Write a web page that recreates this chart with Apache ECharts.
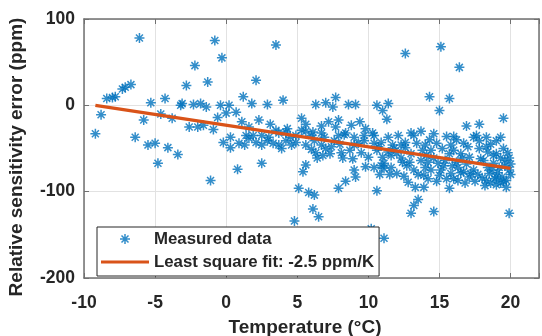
<!DOCTYPE html>
<html>
<head>
<meta charset="utf-8">
<script src="https://cdn.jsdelivr.net/npm/echarts@6/dist/echarts.min.js"></script>
<style>
  html, body { margin: 0; padding: 0; background: #ffffff; }
  #chart { width: 542px; height: 336px; }
</style>
</head>
<body>
<div id="chart"></div>
<script>
// Measured relative sensitivity error: [temperature (°C), error (ppm)]
const measuredPoints = [
  [-9.2,-33],[-8.8,-11],[-8.4,8],[-8.0,9],[-7.8,10],[-7.3,19],[-7.1,21],[-6.7,24],[-6.4,-37],[-6.1,78],
  [-5.8,-17],[-5.5,-46],[-5.3,3],[-5.0,-44],[-4.8,-67],[-4.6,-10],[-4.3,8],[-4.1,-49],[-3.8,-15],[-3.4,-57],
  [-3.1,2],[-3.2,0],[-2.8,23],[-2.6,-25],[-2.3,1],[-2.2,46],[-2.0,-25],[-1.8,2],[-1.6,-23],[-1.4,-2],
  [-1.3,27],[-1.1,-87],[-0.9,-28],[-0.8,75],[-0.6,-14],[-0.4,0],[-0.3,55],[-0.2,-43],[0.0,-9],
  [0.2,0],[0.3,-49],[0.3,-37],[0.7,-8],[0.8,-74],[0.9,-44],[1.1,-19],[1.2,10],[1.3,-46],[1.4,-35],
  [1.6,-25],[1.6,-38],[1.9,-35],[1.8,2],[2.1,-43],[2.1,29],[2.3,-17],[2.5,-35],[2.5,-46],[2.5,-67],
  [2.9,-41],[2.9,1],[3.1,-22],[3.0,-37],[3.3,-44],[3.5,-29],[3.5,70],[3.7,-32],[3.7,-46],[3.9,-50],
  [4.0,6],[4.2,-31],[4.2,-41],[4.3,-27],[4.5,-37],[4.6,-46],[4.8,-134],[4.9,-43],[4.9,-35],
  [5.1,-96],[5.3,-15],[5.3,-29],[5.4,-77],[5.6,-22],[5.6,-30],[5.6,-46],[5.6,-69],[5.8,-101],[6.0,-51],
  [6.0,-35],[6.1,-120],[6.1,-31],[6.2,-104],[6.2,-41],[6.3,1],[6.4,-61],[6.5,-129],[6.7,-24],[6.7,-32],
  [6.7,-46],[6.8,-58],[6.9,-37],[7.0,3],[7.2,-19],[7.3,-56],[7.4,-48],[7.5,-2],[7.6,-41],[7.7,9],
  [7.7,-25],[7.9,-17],[7.9,-35],[7.9,-96],[8.1,-55],[8.2,-61],[8.3,-34],[8.4,-32],[8.4,-88],[8.6,1],
  [8.7,-52],[8.8,-23],[9.0,-46],[9.0,-37],[9.0,-75],[9.1,1],[9.1,-83],[9.3,-44],[9.4,-19],[9.7,-41],
  [9.7,-35],[9.8,-27],[9.8,-71],
  [10.3,-32],[10.4,-44],[10.4,-35],[10.4,-72],[10.6,0],[10.6,-52],[10.6,-99],[10.7,-48],[10.9,-43],[10.9,-70],
  [11.0,-6],[11.0,-60],[11.1,-67],[11.1,-73],[11.1,-154],[10.2,-143],[11.3,-16],[11.4,2],[11.4,-37],[11.4,-54],
  [11.6,-58],[11.6,-72],[11.7,-46],[11.8,-50],[12.0,-79],[12.1,-35],[12.3,-46],[12.3,-61],[12.4,-66],[12.6,60],
  [12.6,-43],[12.6,-49],[12.7,-70],[12.8,-89],[13.0,-32],[13.0,-56],[13.0,-125],[13.2,-75],[13.2,-35],[13.2,-116],
  [13.3,-95],[13.4,-44],[13.5,-109],[13.7,-30],[13.7,-64],[13.9,-81],[13.9,-95],[14.0,-46],[14.0,-72],[14.1,-58],
  [14.3,-40],[14.3,10],[14.4,-52],[14.4,-75],[14.6,-33],[14.6,-61],[14.6,-123],[14.9,-67],[15.0,-6],[15.0,-81],
  [15.1,68],[15.1,-75],[15.3,-70],[15.4,-64],[15.5,-36],[15.7,8],[15.7,-56],[15.7,-96],[15.8,-46],[15.8,-79],
  [16.0,-36],[16.0,-85],[16.3,-87],[16.3,-72],[16.2,-66],[16.4,44],[16.5,-56],[16.5,-78],[16.6,-61],[16.7,-44],
  [16.7,-77],[16.9,-24],[16.9,-68],[17.1,-60],[17.1,-83],[17.2,-79],[17.4,-37],[17.4,-75],[17.6,-35],[17.7,-80],
  [17.8,-22],[17.8,-41],[17.8,-50],[18.0,-84],[18.1,-64],[18.3,-37],[18.3,-48],[18.3,-87],[18.4,-72],[18.4,-54],
  [18.5,-79],[18.6,-90],[18.8,-67],[18.8,-58],[18.9,-85],[19.0,-56],[19.0,-41],[19.0,-83],[19.1,-78],[19.2,-72],
  [19.3,-37],[19.3,-61],[19.3,-90],[19.4,-83],[19.5,-15],[19.5,-50],[19.6,-64],[19.7,-87],[19.7,-95],[19.9,-75],
  [19.9,-61],[19.9,-125],
  [14.2,-85],[14.8,-88],[15.5,-85],[16.8,-90],[17.5,-88],[18.2,-93],[19.0,-92],[19.5,-88],[20.0,-80],[20.0,-68],
  [19.8,-55],[15.2,-50],[16.0,-52],[17.0,-48],[18.6,-45],[13.8,-52],[12.0,-55],[12.9,-66],[14.8,-44],[16.2,-40],
  [17.9,-62],[18.7,-75],[19.6,-70],[15.9,-70],[14.2,-66],[13.5,-80],[12.5,-82],[11.5,-80],[10.8,-80],[10.0,-60],
  [9.5,-55],[8.9,-62],[8.0,-45],[7.0,-50],[6.3,-55]
];

// Linear least-squares fit: slope in ppm/K, intercept in ppm
const fitSlope = -2.5;
const fitIntercept = -23;
const fitTempRange = [-9.2, 20];

const xTicks = [-10, -5, 0, 5, 10, 15, 20];
const yTicks = [-200, -100, 0, 100];
const seriesNames = ['Measured data', 'Least square fit: -2.5 ppm/K'];
const xTitle = 'Temperature (°C)';
const yTitle = 'Relative sensitivity error (ppm)';

const fitLine = fitTempRange.map(t => [t, fitSlope * t + fitIntercept]);

// eight-armed asterisk marker built from four thin bars
const asterisk = 'path://M0,4.25L10,4.25L10,5.75L0,5.75Z' +
  'M4.25,0L5.75,0L5.75,10L4.25,10Z' +
  'M0.97,2.03L2.03,0.97L9.03,7.97L7.97,9.03Z' +
  'M7.97,0.97L9.03,2.03L2.03,9.03L0.97,7.97Z';
// plain bar used as the legend key of the fitted line
const lineKey = 'path://M0,0L100,0L100,6.5L0,6.5Z';

const FONT = '"Liberation Sans", Arial, Helvetica, sans-serif';
const TEXT = '#262626';
const AXIS = '#707070';
const GRID = '#e2e2e2';
const BLUE = '#0072BD';
const ORANGE = '#D95319';

const xRange = { min: -10, max: 22, interval: 5 };
const yRange = { min: -200, max: 100, interval: 100 };

const tickLabel = {
  color: TEXT, fontFamily: FONT, fontWeight: 'bold', fontSize: 17.5
};

function boxAxis(extra) {
  return Object.assign({
    type: 'value',
    axisLine: { show: true, onZero: false, lineStyle: { color: AXIS, width: 1.5 } },
    axisTick: { show: true, inside: true, length: 5, lineStyle: { color: AXIS, width: 1 } },
    splitLine: { show: false },
    axisLabel: { show: false }
  }, extra);
}

const chart = echarts.init(document.getElementById('chart'), null, { renderer: 'canvas' });

chart.setOption({
  animation: false,
  backgroundColor: '#ffffff',
  grid: { left: 84, right: 0, top: 19, bottom: 58, containLabel: false },
  xAxis: [
    boxAxis(Object.assign({}, xRange, {
      position: 'bottom',
      splitLine: { show: true, lineStyle: { color: GRID, width: 1 } },
      axisLabel: Object.assign({
        show: true, margin: 16,
        formatter: v => (xTicks.includes(v) ? String(v) : '')
      }, tickLabel)
    })),
    boxAxis(Object.assign({}, xRange, { position: 'top' }))
  ],
  yAxis: [
    boxAxis(Object.assign({}, yRange, {
      position: 'left',
      splitLine: { show: true, lineStyle: { color: GRID, width: 1 } },
      axisLabel: Object.assign({
        show: true, margin: 9,
        formatter: v => (yTicks.includes(v) ? String(v) : '')
      }, tickLabel)
    })),
    boxAxis(Object.assign({}, yRange, { position: 'right' }))
  ],
  legend: {
    data: [
      { name: seriesNames[0] },
      { name: seriesNames[1], icon: lineKey }
    ],
    orient: 'vertical',
    left: 97,
    top: 227,
    itemWidth: 48,
    itemHeight: 10,
    itemGap: 3,
    padding: [2, 5, 4, 4],
    borderColor: '#262626',
    borderWidth: 1,
    backgroundColor: '#ffffff',
    selectedMode: false,
    z: 10,
    textStyle: {
      color: TEXT, fontFamily: FONT, fontWeight: 'bold', fontSize: 16.8, lineHeight: 20
    }
  },
  graphic: [
    {
      type: 'text', x: 305, y: 328, silent: true,
      style: {
        text: xTitle, fill: TEXT, align: 'center', verticalAlign: 'middle',
        font: 'bold 19px ' + FONT
      }
    },
    {
      type: 'text', x: 17, y: 157, rotation: Math.PI / 2, silent: true,
      style: {
        text: yTitle, fill: TEXT, align: 'center', verticalAlign: 'middle',
        font: 'bold 19px ' + FONT
      }
    }
  ],
  series: [
    {
      name: seriesNames[0],
      type: 'scatter',
      xAxisIndex: 0,
      yAxisIndex: 0,
      data: measuredPoints,
      symbol: asterisk,
      symbolSize: 10,
      itemStyle: { color: BLUE },
      z: 2
    },
    {
      name: seriesNames[1],
      type: 'line',
      xAxisIndex: 0,
      yAxisIndex: 0,
      data: fitLine,
      symbol: 'none',
      showSymbol: false,
      lineStyle: { color: ORANGE, width: 3.2 },
      itemStyle: { color: ORANGE },
      z: 3
    }
  ]
});
</script>
</body>
</html>
